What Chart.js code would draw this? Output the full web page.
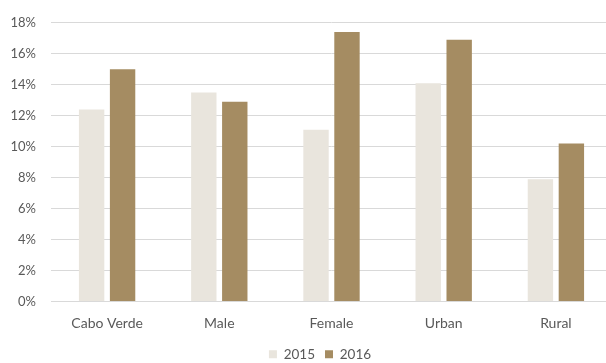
<!DOCTYPE html>
<html>
<head>
<meta charset="utf-8">
<script src="https://cdn.jsdelivr.net/npm/chart.js@4.4.1/dist/chart.umd.min.js"></script>
<style>
  html, body { margin: 0; padding: 0; background: #fff; overflow: hidden; }
  #wrap { position: relative; width: 614px; height: 363px; }
</style>
</head>
<body>
<div id="wrap"><canvas id="chart"></canvas></div>
<script>
// 类别与两年的数值（%）
const categories = ['Cabo Verde', 'Male', 'Female', 'Urban', 'Rural'];
const values2015 = [12.4, 13.5, 11.1, 14.1, 7.9];
const values2016 = [15.0, 12.9, 17.4, 16.9, 10.2];
const seriesLabels = ['2015', '2016'];
const yTicks = [0, 2, 4, 6, 8, 10, 12, 14, 16, 18];

const textColor = '#595959';
const gridColor = '#d9d9d9';
const fontFamily = 'Lato, "Open Sans", sans-serif';

// 图例整体右移一点，与绘图区居中
const legendShift = {
    id: 'legendShift',
    afterLayout(chart) {
        if (chart.legend) {
            chart.legend.left += 14;
            chart.legend.right += 14;
        }
    }
};

const ctx = document.getElementById('chart').getContext('2d');
window.barChart = new Chart(ctx, {
    type: 'bar',
    data: {
        labels: categories,
        datasets: [
            {
                label: seriesLabels[0],
                data: values2015,
                backgroundColor: '#e9e5dd'
            },
            {
                label: seriesLabels[1],
                data: values2016,
                backgroundColor: '#a58c62'
            }
        ]
    },
    plugins: [legendShift],
    options: {
        responsive: true,
        maintainAspectRatio: false,
        animation: false,
        categoryPercentage: 0.552,
        barPercentage: 0.82,
        layout: { padding: { top: 20, right: 2, left: 0, bottom: -8 } },
        plugins: {
            tooltip: { enabled: false },
            legend: {
                position: 'bottom',
                labels: {
                    boxWidth: 8,
                    boxHeight: 8,
                    padding: 10,
                    color: textColor,
                    font: { family: fontFamily, size: 13.5 }
                }
            }
        },
        scales: {
            x: {
                grid: { display: false, drawTicks: false },
                border: { color: gridColor, width: 1 },
                afterFit: scale => { scale.height = 36; },
                ticks: {
                    color: textColor,
                    padding: 14,
                    font: { family: fontFamily, size: 14 }
                }
            },
            y: {
                min: 0,
                max: 18,
                afterBuildTicks: scale => {
                    scale.ticks = yTicks.map(v => ({ value: v }));
                },
                afterFit: scale => { scale.width = 51; },
                grid: { color: gridColor, lineWidth: 1, drawTicks: false },
                border: { display: false },
                ticks: {
                    color: textColor,
                    padding: 15,
                    font: { family: fontFamily, size: 13 },
                    callback: v => v + '%'
                }
            }
        }
    }
});
</script>
</body>
</html>
